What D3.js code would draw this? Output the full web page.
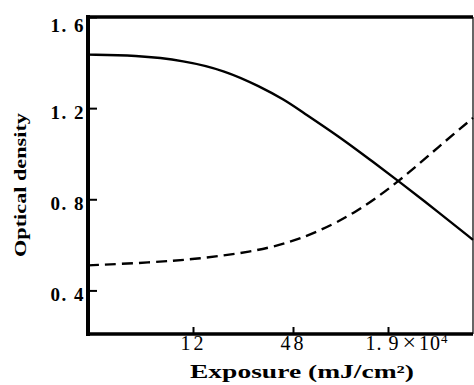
<!DOCTYPE html>
<html>
<head>
<meta charset="utf-8">
<script src="https://cdn.jsdelivr.net/npm/d3@7"></script>
<style>
  body { margin: 0; background: #fff; }
  svg { display: block; }
  text { font-family: "Liberation Serif", "DejaVu Serif", serif; fill: #000; }
</style>
</head>
<body>
<svg id="chart"></svg>
<script>
// Exposure axis is drawn as evenly spaced steps: 12, 48, 1.9x10^4
// x values are positions along that stepped axis (0 = left edge)
const xTicks = [1, 2, 3];
const xTickLabels = ['12', '48', '1.9×10^4'];
const yTicks = [0.4, 0.8, 1.2, 1.6];

const solidX = [0, 0.45, 0.92, 1.32, 1.67, 1.92, 2.07, 2.49, 2.81, 3.12, 3.56, 3.92];
const solidY = [1.435, 1.432, 1.409, 1.365, 1.295, 1.235, 1.191, 1.074, 0.974, 0.878, 0.739, 0.622];

const dashedX = [0, 0.59, 1.07, 1.59, 1.92, 2.26, 2.67, 3.12, 3.56, 3.92];
const dashedY = [0.51, 0.522, 0.539, 0.570, 0.604, 0.656, 0.743, 0.878, 1.035, 1.157];

const width = 474, height = 385;
const margin = { left: 88, top: 17, right: 1, bottom: 51 };

const svg = d3.select('#chart')
    .attr('width', width)
    .attr('height', height);

// stepped axis: each step is a piece of a piecewise linear scale
const xScale = d3.scaleLinear()
    .domain([0, 1, 2, 3, 3.92])
    .range([margin.left, 193, 293, 388, width - margin.right]);

const yScale = d3.scaleLinear()
    .domain([0.4 - 44 / 230, 1.6])
    .range([height - margin.bottom, margin.top]);

const fmt = d => d.toFixed(1).replace('.', '. ');

// y axis, ticks pointing inward
const yAxis = d3.axisLeft(yScale)
    .tickValues(yTicks)
    .tickSizeInner(-9)
    .tickSizeOuter(0)
    .tickPadding(3)
    .tickFormat(fmt);

svg.append('g')
    .attr('transform', `translate(${margin.left},0)`)
    .call(yAxis)
    .call(g => g.select('.domain').remove())
    .call(g => g.selectAll('line').attr('stroke', '#000').attr('stroke-width', 2))
    .call(g => g.selectAll('text')
        .style('font-size', '19px')
        .attr('font-weight', 'bold')
        .attr('letter-spacing', 1.5)
        .attr('y', d => d === 1.6 ? 8 : 4));

// x axis, ticks pointing inward
const xAxis = d3.axisBottom(xScale)
    .tickValues(xTicks)
    .tickSizeInner(-7)
    .tickSizeOuter(0)
    .tickPadding(2)
    .tickFormat((d, i) => xTickLabels[i]);

const xAxisG = svg.append('g')
    .attr('transform', `translate(0,${height - margin.bottom})`)
    .call(xAxis)
    .call(g => g.select('.domain').remove())
    .call(g => g.selectAll('line').attr('stroke', '#000').attr('stroke-width', 2))
    .call(g => g.selectAll('text')
        .style('font-size', '20px')
        .attr('letter-spacing', 3));

// last tick label: 1. 9×10⁴ with a raised exponent, starting left of its tick
xAxisG.selectAll('.tick text')
    .filter((d, i) => i === 2)
    .text(null)
    .attr('text-anchor', 'start')
    .attr('letter-spacing', 1)
    .attr('x', -23)
    .call(t => {
        t.append('tspan').text('1. 9');
        t.append('tspan').attr('dx', 3).style('font-size', '24px').text('×');
        t.append('tspan').attr('dx', 2).text('10');
        t.append('tspan').style('font-size', '13px').attr('dy', -7).text('4');
    });

// frame
const x0 = margin.left, x1 = width - margin.right;
const y0 = margin.top, y1 = height - margin.bottom;
svg.append('line').attr('x1', x0).attr('x2', x0).attr('y1', y0 - 2).attr('y2', y1 + 2)
    .attr('stroke', '#000').attr('stroke-width', 4);
svg.append('line').attr('x1', x0).attr('x2', x1).attr('y1', y1).attr('y2', y1)
    .attr('stroke', '#000').attr('stroke-width', 3.5);
svg.append('line').attr('x1', x0).attr('x2', x1).attr('y1', y0).attr('y2', y0)
    .attr('stroke', '#000').attr('stroke-width', 3.5);
svg.append('line').attr('x1', x1).attr('x2', x1).attr('y1', y0).attr('y2', y1)
    .attr('stroke', '#000').attr('stroke-width', 1.2);

// curves
const line = d3.line()
    .x(d => xScale(d[0]))
    .y(d => yScale(d[1]))
    .curve(d3.curveBasis);

svg.append('path')
    .datum(d3.zip(solidX, solidY))
    .attr('d', line)
    .attr('fill', 'none')
    .attr('stroke', '#000')
    .attr('stroke-width', 2.4);

svg.append('path')
    .datum(d3.zip(dashedX, dashedY))
    .attr('d', line)
    .attr('fill', 'none')
    .attr('stroke', '#000')
    .attr('stroke-width', 2.4)
    .attr('stroke-dasharray', '11,6');

// axis titles
svg.append('text')
    .attr('x', 302)
    .attr('y', 378)
    .attr('text-anchor', 'middle')
    .attr('font-size', 18)
    .attr('font-weight', 'bold')
    .attr('textLength', 224)
    .attr('lengthAdjust', 'spacingAndGlyphs')
    .text('Exposure (mJ/cm²)');

svg.append('text')
    .attr('transform', 'translate(26,185) rotate(-90)')
    .attr('text-anchor', 'middle')
    .attr('font-size', 17)
    .attr('font-weight', 'bold')
    .attr('textLength', 144)
    .attr('lengthAdjust', 'spacingAndGlyphs')
    .text('Optical density');
</script>
</body>
</html>
